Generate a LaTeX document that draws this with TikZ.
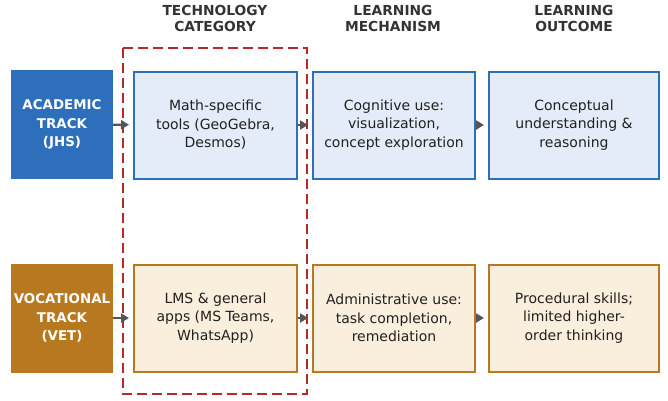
\documentclass[tikz,border=0pt]{standalone}
\usepackage{fontspec}
\setmainfont{DejaVu Sans}
\usetikzlibrary{arrows.meta}
\definecolor{acadDark}{HTML}{2E6FBB}
\definecolor{acadLight}{HTML}{E3ECF8}
\definecolor{vocDark}{HTML}{B87820}
\definecolor{vocLight}{HTML}{FAEEDC}
\definecolor{frameRed}{HTML}{B22A2A}
\definecolor{arrowGray}{HTML}{555555}
\definecolor{headGray}{HTML}{333333}
\tikzstyle{track}=[minimum width=102pt, minimum height=109pt, inner sep=0pt, align=center, text=white, font=\fontsize{13.4}{18.5}\selectfont\bfseries]
\tikzstyle{stage}=[draw, line width=2pt, minimum height=107pt, inner sep=0pt, align=center, text=black!87, font=\fontsize{14}{18.5}\selectfont]
\tikzstyle{header}=[align=center, text=headGray, font=\fontsize{13.8}{15.5}\selectfont\bfseries]
\tikzstyle{flow}=[draw=arrowGray, line width=2.2pt, -{Triangle[length=8pt, width=9pt]}, shorten >=4pt]

\begin{document}
\begin{tikzpicture}[x=1pt, y=-1pt]
				\useasboundingbox (0,0) rectangle (668,400);
				\coordinate (H1) at (215,18.5);
				\coordinate (H2) at (393,18.5);
				\coordinate (H3) at (574,18.5);

				\node[header] (headTech) at (H1) {TECHNOLOGY\\CATEGORY};
				\node[header] (headMech) at (H2) {LEARNING\\MECHANISM};
				\node[header] (headOut) at (H3) {LEARNING\\OUTCOME};

				% academic row
				\node[track, fill=acadDark] (acad) at (62,124.5) {ACADEMIC\\TRACK\\(JHS)};
				\node[stage, draw=acadDark, fill=acadLight, minimum width=163pt] (acadTech) at (215.5,125) {Math-specific\\tools (GeoGebra,\\Desmos)};
				\node[stage, draw=acadDark, fill=acadLight, minimum width=162pt] (acadMech) at (394,125) {Cognitive use:\\visualization,\\concept exploration};
				\node[stage, draw=acadDark, fill=acadLight, minimum width=170pt] (acadOut) at (574,125) {Conceptual\\understanding \&\\reasoning};

				% vocational row
				\node[track, fill=vocDark] (voc) at (62,318) {VOCATIONAL\\TRACK\\(VET)};
				\node[stage, draw=vocDark, fill=vocLight, minimum width=163pt] (vocTech) at (215.5,318) {LMS \& general\\apps (MS Teams,\\WhatsApp)};
				\node[stage, draw=vocDark, fill=vocLight, minimum width=162pt] (vocMech) at (394,318) {Administrative use:\\task completion,\\remediation};
				\node[stage, draw=vocDark, fill=vocLight, minimum width=170pt] (vocOut) at (574,318) {Procedural skills;\\limited higher-\\order thinking};

				\draw[frameRed, line width=2.8pt, dash pattern=on 10pt off 5pt] (123,48) rectangle (307,394);

				\draw[flow] (acad) -- (acadTech);
				\draw[flow] (acadTech) -- (acadMech);
				\draw[flow] (acadMech) -- (acadOut);
				\draw[flow] (voc) -- (vocTech);
				\draw[flow] (vocTech) -- (vocMech);
				\draw[flow] (vocMech) -- (vocOut);
			\end{tikzpicture}
\end{document}
